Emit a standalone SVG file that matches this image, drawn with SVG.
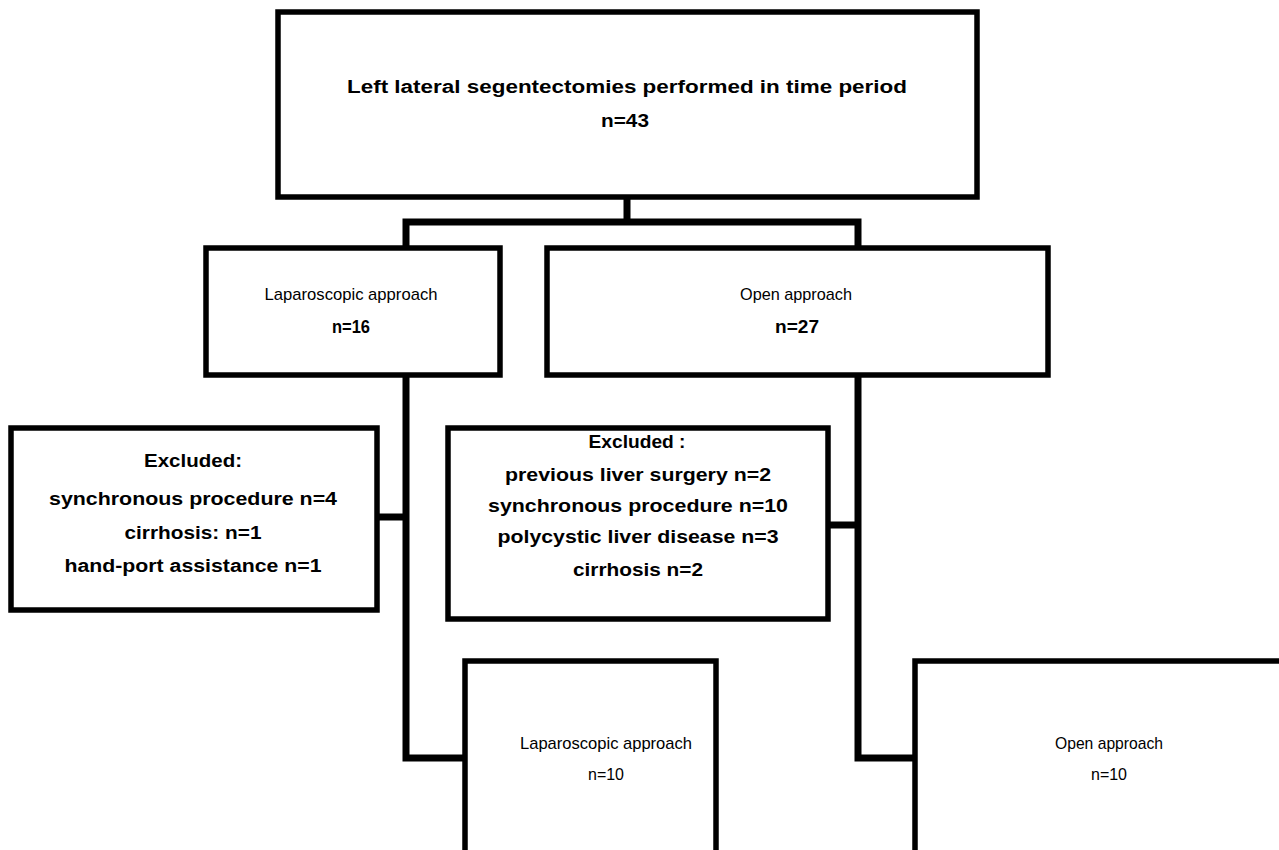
<svg xmlns="http://www.w3.org/2000/svg" width="1279" height="850" viewBox="0 0 1279 850">
<style>
.box{fill:#fff;stroke:#000;stroke-width:5.5}
.con{fill:none;stroke:#000;stroke-width:7;stroke-linejoin:miter}
text{font-family:"Liberation Sans",Arial,sans-serif;fill:#000;text-anchor:middle}
.b{font-weight:bold;font-size:18px}
.r{font-size:17px}
</style>
<rect width="1279" height="850" fill="#fff"/>
<g id="connectors">
<path class="con" d="M627,197 V222 M406,248 V222 H858 V248"/>
<path class="con" d="M406,375 V758 H465 M377,517 H406"/>
<path class="con" d="M858,375 V758 H915 M828,525 H858"/>
</g>
<g id="top">
<rect class="box" x="278" y="12" width="699" height="185"/>
<text class="b" x="627" y="93" textLength="560" lengthAdjust="spacingAndGlyphs">Left lateral segentectomies performed in time period</text>
<text class="b" x="625" y="127" textLength="48" lengthAdjust="spacingAndGlyphs">n=43</text>
</g>
<g id="lap1">
<rect class="box" x="206" y="248" width="294" height="127"/>
<text class="r" x="351" y="300" textLength="173" lengthAdjust="spacingAndGlyphs">Laparoscopic approach</text>
<text class="b" x="351" y="333" textLength="38" lengthAdjust="spacingAndGlyphs">n=16</text>
</g>
<g id="open1">
<rect class="box" x="547" y="248" width="501" height="127"/>
<text class="r" x="796" y="300" textLength="112" lengthAdjust="spacingAndGlyphs">Open approach</text>
<text class="b" x="797" y="333" textLength="44" lengthAdjust="spacingAndGlyphs">n=27</text>
</g>
<g id="excl1">
<rect class="box" x="11" y="428" width="366" height="182"/>
<text class="b" x="193" y="467" textLength="98" lengthAdjust="spacingAndGlyphs">Excluded:</text>
<text class="b" x="193" y="505" textLength="288" lengthAdjust="spacingAndGlyphs">synchronous procedure n=4</text>
<text class="b" x="193" y="539" textLength="137" lengthAdjust="spacingAndGlyphs">cirrhosis: n=1</text>
<text class="b" x="193" y="572" textLength="257" lengthAdjust="spacingAndGlyphs">hand-port assistance n=1</text>
</g>
<g id="excl2">
<rect class="box" x="448" y="428" width="380" height="191"/>
<text class="b" x="637" y="448" textLength="97" lengthAdjust="spacingAndGlyphs">Excluded :</text>
<text class="b" x="638" y="481" textLength="266" lengthAdjust="spacingAndGlyphs">previous liver surgery n=2</text>
<text class="b" x="638" y="512" textLength="300" lengthAdjust="spacingAndGlyphs">synchronous procedure n=10</text>
<text class="b" x="638" y="543" textLength="281" lengthAdjust="spacingAndGlyphs">polycystic liver disease n=3</text>
<text class="b" x="638" y="576" textLength="130" lengthAdjust="spacingAndGlyphs">cirrhosis n=2</text>
</g>
<g id="lap2">
<rect class="box" x="465" y="661" width="251" height="200"/>
<text class="r" x="606" y="749" textLength="172" lengthAdjust="spacingAndGlyphs">Laparoscopic approach</text>
<text class="r" x="606" y="780" textLength="36" lengthAdjust="spacingAndGlyphs">n=10</text>
</g>
<g id="open2">
<rect class="box" x="915" y="661" width="380" height="200"/>
<text class="r" x="1109" y="749" textLength="108" lengthAdjust="spacingAndGlyphs">Open approach</text>
<text class="r" x="1109" y="780" textLength="36" lengthAdjust="spacingAndGlyphs">n=10</text>
</g>
</svg>
